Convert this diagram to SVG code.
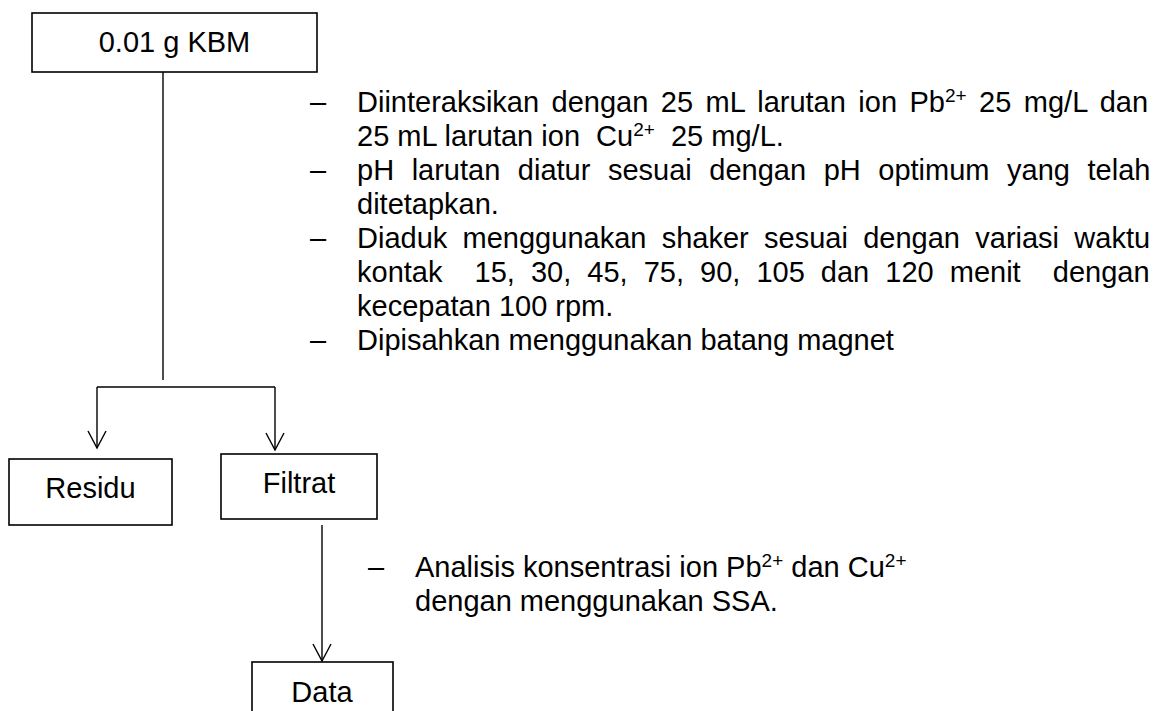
<svg xmlns="http://www.w3.org/2000/svg" width="1159" height="711" viewBox="0 0 1159 711">
  <defs>
    <style>
      .box { fill: #ffffff; stroke: #000000; stroke-width: 1.6; }
      .lbl { font-family: "Liberation Sans", Arial, sans-serif; font-size: 29px; fill: #000000; }
      .pre text, text.pre { white-space: pre; }
      .mid { text-anchor: middle; }
      .sup { font-size: 19px; }
      .wire { fill: none; stroke: #000000; stroke-width: 1.4; }
    </style>
    <marker id="openArrow" markerUnits="userSpaceOnUse" markerWidth="24" markerHeight="24"
            viewBox="-20 -12 24 24" refX="0" refY="0" orient="auto">
      <path d="M-17,-9 L0,0 L-17,9" fill="none" stroke="#000000" stroke-width="1.4"/>
    </marker>
  </defs>
  <rect width="1159" height="711" fill="#ffffff"/>

  <!-- connectors -->
  <g id="connectors">
    <line class="wire" x1="163" y1="72" x2="163" y2="380"/>
    <line class="wire" x1="97" y1="387" x2="275" y2="387"/>
    <line class="wire" x1="97" y1="387" x2="97" y2="448" marker-end="url(#openArrow)"/>
    <line class="wire" x1="275" y1="387" x2="275" y2="450" marker-end="url(#openArrow)"/>
    <line class="wire" x1="322" y1="525" x2="322" y2="661" marker-end="url(#openArrow)"/>
  </g>

  <!-- start node -->
  <g id="node-kbm">
    <rect class="box" x="32" y="13" width="285" height="59"/>
    <text class="lbl mid" x="174.5" y="52">0.01 g KBM</text>
  </g>

  <!-- process steps -->
  <g id="steps-main" class="lbl pre">
    <text x="310" y="112">–</text>
    <text x="310" y="180">–</text>
    <text x="310" y="248">–</text>
    <text x="310" y="350">–</text>
    <text x="357" y="112" xml:space="preserve" style="word-spacing:4.4px">Diinteraksikan dengan 25 mL larutan ion Pb<tspan class="sup" dy="-10">2+</tspan><tspan dy="10"> 25 mg/L dan</tspan></text>
    <text x="357" y="146" xml:space="preserve">25 mL larutan ion  Cu<tspan class="sup" dy="-10">2+</tspan><tspan dy="10">  25 mg/L.</tspan></text>
    <text x="357" y="180" style="word-spacing:9.5px">pH larutan diatur sesuai dengan pH optimum yang telah</text>
    <text x="357" y="214">ditetapkan.</text>
    <text x="357" y="248" style="word-spacing:7.25px">Diaduk menggunakan shaker sesuai dengan variasi waktu</text>
    <text x="357" y="282" xml:space="preserve" style="word-spacing:8px">kontak  15, 30, 45, 75, 90, 105 dan 120 menit  dengan</text>
    <text x="357" y="316">kecepatan 100 rpm.</text>
    <text x="357" y="350">Dipisahkan menggunakan batang magnet</text>
  </g>

  <!-- products -->
  <g id="node-residu">
    <rect class="box" x="9" y="459" width="163" height="66"/>
    <text class="lbl mid" x="90.5" y="498">Residu</text>
  </g>
  <g id="node-filtrat">
    <rect class="box" x="221" y="454" width="156" height="65"/>
    <text class="lbl mid" x="299" y="493">Filtrat</text>
  </g>

  <!-- analysis step -->
  <g id="steps-analysis" class="lbl pre">
    <text x="368" y="577">–</text>
    <text x="415" y="577">Analisis konsentrasi ion Pb<tspan class="sup" dy="-10">2+</tspan><tspan dy="10"> dan Cu</tspan><tspan class="sup" dy="-10">2+</tspan></text>
    <text x="415" y="611">dengan menggunakan SSA.</text>
  </g>

  <!-- result -->
  <g id="node-data">
    <rect class="box" x="252" y="662" width="141" height="60"/>
    <text class="lbl mid" x="322" y="702">Data</text>
  </g>
</svg>
